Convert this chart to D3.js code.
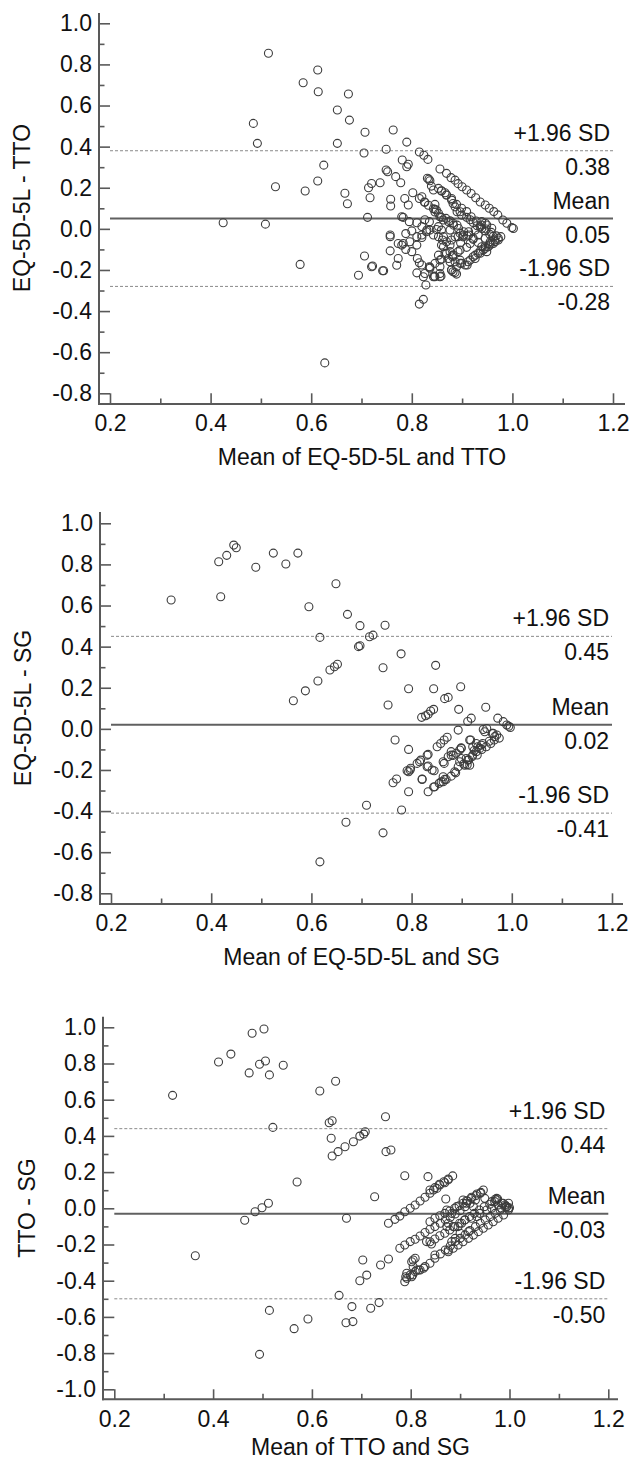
<!DOCTYPE html>
<html>
<head>
<meta charset="utf-8">
<title>Bland-Altman plots</title>
<script src="https://cdn.jsdelivr.net/npm/d3@7"></script>
<style>
  body { margin: 0; background: #fff; }
  text { font-family: "Liberation Sans", Arial, sans-serif; fill: #111; }
</style>
</head>
<body>
<script>
// ---- data ----
const yTitles = ["EQ-5D-5L - TTO", "EQ-5D-5L - SG", "TTO - SG"];
const xTitles = ["Mean of EQ-5D-5L and TTO", "Mean of EQ-5D-5L and SG", "Mean of TTO and SG"];
const meanDiff = [0.05, 0.02, -0.03];
const upperLoA = [0.38, 0.45, 0.44];
const lowerLoA = [-0.28, -0.41, -0.50];

const xTicks = [0.2, 0.4, 0.6, 0.8, 1.0, 1.2];
const xMinor = [0.3, 0.5, 0.7, 0.9, 1.1];
const yTicksA = [-0.8, -0.6, -0.4, -0.2, 0.0, 0.2, 0.4, 0.6, 0.8, 1.0];
const yMinorA = [-0.7, -0.5, -0.3, -0.1, 0.1, 0.3, 0.5, 0.7, 0.9];
const yTicksB = [-1.0, -0.8, -0.6, -0.4, -0.2, 0.0, 0.2, 0.4, 0.6, 0.8, 1.0];
const yMinorB = [-0.9, -0.7, -0.5, -0.3, -0.1, 0.1, 0.3, 0.5, 0.7, 0.9];

// [mean, difference]
const pts1 = [
[0.515,0.854],[0.584,0.711],[0.613,0.773],[0.614,0.667],[0.485,0.513],[0.493,0.416],[0.529,0.205],[0.588,0.184],[0.613,0.233],[0.425,0.030],[0.509,0.023],[0.578,-0.173],
[0.674,0.656],[0.652,0.578],[0.676,0.529],[0.707,0.470],[0.763,0.481],[0.652,0.416],[0.705,0.369],[0.749,0.387],[0.790,0.422],[0.815,0.374],[0.824,0.358],[0.832,0.338],[0.625,0.310],
[0.781,0.335],[0.790,0.302],[0.793,0.314],[0.749,0.286],[0.752,0.278],[0.768,0.254],[0.778,0.224],[0.737,0.224],[0.720,0.221],[0.714,0.200],[0.717,0.151],[0.667,0.173],[0.672,0.122],[0.712,0.056],[0.758,0.144],[0.758,0.111],[0.802,0.176],[0.786,0.148],[0.793,0.116],[0.780,0.059],[0.815,0.148],[0.826,0.129],[0.846,0.119],[0.849,0.092],
[0.831,0.246],[0.836,0.234],[0.839,0.208],[0.843,0.189],[0.853,0.197],[0.859,0.185],[0.866,0.176],[0.869,0.165],[0.879,0.140],[0.882,0.123],[0.886,0.107],[0.896,0.083],
[0.856,0.291],[0.869,0.270],[0.878,0.249],[0.886,0.237],[0.892,0.220],[0.900,0.205],[0.909,0.189],[0.918,0.172],[0.927,0.151],[0.936,0.131],[0.946,0.116],[0.954,0.100],[0.963,0.084],[0.971,0.068],[0.981,0.043],[0.989,0.027],[0.999,0.006],[1.002,0.002],
[0.834,0.242],[0.859,0.184],[0.869,0.165],[0.879,0.148],[0.889,0.119],[0.899,0.100],[0.909,0.084],[0.918,0.059],[0.928,0.038],[0.938,0.019],[0.948,-0.001],[0.958,-0.017],[0.968,-0.034],[0.977,-0.038],
[0.820,0.156],[0.825,0.131],[0.833,0.115],[0.843,0.098],[0.846,0.082],[0.856,0.059],[0.863,0.043],[0.873,0.034],[0.883,0.018],[0.893,0.002],[0.903,-0.014],[0.913,-0.030],[0.922,-0.046],[0.932,-0.066],[0.939,-0.087],[0.949,-0.111],
[0.906,-0.176],[0.916,-0.152],[0.926,-0.128],[0.936,-0.108],[0.946,-0.087],[0.955,-0.071],[0.965,-0.054],[0.972,-0.046],
[0.810,-0.038],[0.820,-0.030],[0.829,-0.014],[0.836,-0.006],
[0.826,-0.217],[0.836,-0.192],[0.846,-0.168],[0.856,-0.152],[0.853,-0.128],
[0.843,-0.233],[0.856,-0.217],[0.879,-0.200],[0.889,-0.184],[0.899,-0.168],[0.912,-0.160],[0.922,-0.136],[0.932,-0.119],[0.942,-0.103],[0.952,-0.087],[0.962,-0.071],
[0.859,-0.079],[0.869,-0.063],[0.879,-0.054],[0.892,-0.038],[0.903,-0.030],[0.913,-0.014],[0.926,-0.006],[0.936,0.010],[0.946,0.027],
[0.866,-0.119],[0.876,-0.111],[0.882,-0.128],[0.892,-0.111],[0.873,-0.144],[0.886,-0.160],[0.896,-0.152],
[0.783,0.056],[0.795,0.035],[0.810,0.030],[0.820,0.011],[0.826,0.044],[0.835,0.035],[0.846,0.095],[0.853,0.076],[0.859,0.056],[0.868,0.051],[0.876,0.039],[0.882,0.027],
[0.890,0.083],[0.899,0.067],[0.909,0.056],[0.916,0.044],[0.922,0.031],[0.930,0.015],[0.939,0.002],[0.946,-0.010],[0.955,-0.026],[0.962,-0.037],[0.972,-0.054],
[0.926,-0.144],[0.936,-0.119],[0.946,-0.095],[0.956,-0.078],[0.966,-0.062],
[0.910,-0.176],[0.896,-0.168],[0.882,-0.209],[0.889,-0.220],
[0.856,-0.233],[0.846,-0.233],[0.836,-0.187],[0.828,-0.273],[0.823,-0.233],[0.815,-0.165],[0.810,-0.214],[0.820,-0.176],
[0.815,-0.366],[0.823,-0.343],
[0.879,-0.200],[0.856,-0.184],[0.859,-0.148],[0.876,-0.160],
[0.882,-0.128],[0.896,-0.103],[0.909,-0.090],[0.916,-0.071],
[0.863,-0.087],[0.861,-0.054],[0.876,-0.079],[0.886,-0.039],[0.897,-0.068],[0.902,-0.039],[0.910,-0.035],[0.922,-0.051],[0.932,-0.030],
[0.783,-0.071],[0.796,-0.063],[0.810,-0.079],[0.788,-0.023],[0.800,-0.010],[0.820,-0.042],[0.830,-0.006],[0.843,-0.030],[0.849,-0.003],
[0.757,-0.030],[0.757,-0.038],[0.773,-0.071],[0.780,-0.079],[0.788,-0.100],[0.800,-0.111],[0.757,-0.107],[0.773,-0.144],[0.770,-0.177],[0.744,-0.204],[0.722,-0.181],
[0.890,0.018],[0.896,-0.022],[0.853,0.011],[0.859,-0.006],[0.863,-0.038],[0.853,-0.038],[0.876,-0.006],
[0.939,0.035],[0.949,0.019],[0.959,0.003],[0.946,-0.046],[0.956,-0.062],
[0.869,-0.119],[0.881,-0.136],
[0.706,-0.132],[0.720,-0.184],[0.742,-0.204],[0.694,-0.226],[0.627,-0.652],
[0.811,-0.144],[0.835,-0.184],[0.845,-0.230],[0.858,-0.230],[0.886,-0.212]
];

const pts2 = [
[0.320,0.627],[0.415,0.813],[0.431,0.844],[0.445,0.894],[0.450,0.881],[0.419,0.643],[0.489,0.786],[0.524,0.855],[0.549,0.802],[0.573,0.855],[0.595,0.594],[0.564,0.137],[0.588,0.185],[0.613,0.233],[0.617,0.445],[0.617,-0.647],
[0.649,0.706],[0.672,0.557],[0.697,0.502],[0.747,0.504],[0.716,0.448],[0.723,0.456],[0.694,0.400],[0.697,0.404],[0.779,0.365],[0.637,0.286],[0.646,0.302],[0.652,0.314],[0.743,0.297],[0.848,0.309],[0.794,0.195],[0.844,0.195],[0.898,0.205],[0.753,0.116],[0.866,0.147],[0.873,0.153],[0.820,0.056],[0.828,0.064],[0.844,0.095],[0.838,0.087],[0.894,0.095],[0.948,0.105],[0.912,0.036],[0.919,0.052],[0.972,0.052],[0.983,0.035],[0.990,0.019],[0.997,0.007],[0.994,0.013],
[0.767,-0.054],[0.794,-0.100],[0.893,-0.006],[0.943,-0.003],[0.950,0.002],[0.918,-0.054],[0.966,-0.038],[0.961,-0.022],
[0.851,-0.087],[0.858,-0.071],[0.865,-0.054],[0.871,-0.041],
[0.899,-0.092],[0.922,-0.087],[0.936,-0.095],[0.942,-0.071],[0.949,-0.087],[0.958,-0.071],[0.965,-0.054],
[0.816,-0.160],[0.811,-0.168],[0.833,-0.124],[0.833,-0.181],[0.845,-0.204],[0.797,-0.200],[0.794,-0.209],[0.865,-0.168],[0.883,-0.129],[0.889,-0.119],[0.904,-0.171],[0.914,-0.151],[0.911,-0.175],[0.921,-0.135],[0.931,-0.127],
[0.763,-0.262],[0.770,-0.244],[0.821,-0.244],
[0.833,-0.306],[0.844,-0.283],[0.855,-0.265],[0.863,-0.257],[0.869,-0.246],[0.879,-0.230],[0.888,-0.214],
[0.794,-0.306],[0.710,-0.372],[0.780,-0.395],[0.669,-0.454],[0.743,-0.506],
[0.833,0.071],[0.946,-0.014],[0.963,-0.022],
[0.916,-0.054],[0.929,-0.071],[0.939,-0.079],
[0.899,-0.095],[0.879,-0.128],[0.863,-0.160],[0.899,-0.144],[0.896,-0.160],[0.906,-0.177],[0.912,-0.152],[0.916,-0.177],
[0.831,-0.128],[0.818,-0.152],[0.798,-0.192],[0.791,-0.204],[0.831,-0.184],[0.841,-0.200],[0.821,-0.246],
[0.866,-0.246],[0.859,-0.257],[0.863,-0.233],[0.886,-0.209],[0.893,-0.184],[0.846,-0.282],
[0.873,-0.136],[0.879,-0.111],[0.896,-0.103],[0.909,-0.144],[0.922,-0.128],[0.929,-0.111],[0.932,-0.087],
[0.955,-0.060],[0.970,-0.030],[0.975,-0.045],[0.940,-0.100],[0.925,-0.105]
];

const pts3 = [
[0.318,0.624],[0.411,0.808],[0.436,0.852],[0.479,0.967],[0.503,0.991],[0.494,0.796],[0.506,0.814],[0.473,0.748],[0.514,0.737],[0.542,0.790],[0.521,0.447],[0.570,0.145],[0.512,0.028],[0.499,0.003],[0.485,-0.019],[0.464,-0.066],[0.364,-0.262],[0.514,-0.564],[0.564,-0.665],[0.592,-0.612],[0.494,-0.807],[0.616,0.648],
[0.648,0.702],[0.635,0.473],[0.641,0.484],[0.749,0.506],[0.639,0.387],
[0.641,0.289],[0.653,0.313],[0.667,0.340],[0.684,0.368],[0.697,0.399],[0.705,0.410],[0.708,0.423],
[0.750,0.313],[0.760,0.322],[0.788,0.180],[0.835,0.175],[0.727,0.064],[0.670,-0.055],[0.871,0.051],
[0.755,-0.083],[0.768,-0.061],[0.778,-0.043],[0.788,-0.019],[0.799,0.000],[0.809,0.018],[0.819,0.040],[0.829,0.061],[0.839,0.083],[0.846,0.101],[0.853,0.110],[0.859,0.129],[0.869,0.141],[0.876,0.157],[0.885,0.179],
[0.778,-0.221],[0.788,-0.203],[0.799,-0.184],[0.809,-0.171],[0.819,-0.153],[0.829,-0.134],[0.839,-0.116],[0.849,-0.101],[0.860,-0.083],[0.870,-0.064],[0.880,-0.050],[0.890,-0.031],[0.900,-0.013],[0.910,0.009],[0.920,0.028],[0.931,0.046],[0.941,0.083],[0.947,0.101],
[0.788,-0.406],[0.799,-0.368],[0.809,-0.350],[0.819,-0.341],[0.829,-0.322],[0.839,-0.304],[0.849,-0.276],[0.860,-0.252],[0.870,-0.230],[0.880,-0.208],[0.890,-0.184],[0.900,-0.166],[0.910,-0.147],[0.920,-0.123],[0.931,-0.101],[0.941,-0.083],[0.951,-0.064],[0.961,-0.046],[0.971,-0.028],[0.981,-0.009],[0.991,0.009],[0.998,0.028],
[0.792,-0.359],[0.809,-0.276],[0.802,-0.295],[0.812,-0.341],[0.832,-0.184],[0.842,-0.197],[0.849,-0.258],[0.876,-0.230],[0.883,-0.184],[0.890,-0.166],[0.900,-0.138],[0.917,-0.129],[0.876,-0.083],[0.886,-0.101],[0.896,-0.101],[0.903,-0.083],[0.910,-0.064],[0.923,-0.055],[0.934,-0.046],[0.940,-0.028],[0.954,-0.009],[0.964,0.000],[0.977,0.018],[0.984,0.000],[0.987,0.028],[0.994,0.009],[0.927,0.009],[0.913,0.028],[0.950,0.055],[0.964,0.037],[0.974,0.046],[0.906,0.046],[0.893,0.009],[0.883,-0.028],[0.873,-0.009],[0.873,-0.101],
[0.934,0.079],[0.923,0.061],[0.913,0.042],[0.971,0.050],[0.998,0.000],
[0.839,0.101],[0.849,0.114],[0.858,0.133],[0.867,0.147],[0.876,0.162],
[0.839,-0.074],[0.849,-0.055],[0.859,-0.041],[0.869,-0.028],[0.879,-0.015],[0.889,0.000],[0.898,0.014],[0.906,0.028],[0.915,0.040],[0.923,0.055],[0.932,0.070],[0.942,0.088],
[0.839,-0.185],[0.849,-0.170],[0.859,-0.152],[0.869,-0.138],[0.879,-0.120],[0.889,-0.102],[0.899,-0.083],[0.909,-0.065],[0.919,-0.046],[0.929,-0.028],[0.939,-0.009],[0.949,0.009],[0.960,0.022],[0.970,0.037],[0.976,0.051],
[0.876,-0.240],[0.886,-0.221],[0.896,-0.203],[0.906,-0.185],[0.917,-0.166],[0.927,-0.148],[0.937,-0.129],[0.947,-0.110],[0.957,-0.092],[0.967,-0.074],[0.977,-0.055],[0.988,-0.037],[0.998,-0.009],[0.994,0.009],
[0.974,0.055],[0.984,0.028],[0.991,0.018],[1.000,0.003],
[0.703,-0.286],[0.711,-0.369],[0.697,-0.400],[0.739,-0.313],[0.755,-0.280],[0.655,-0.481],[0.681,-0.543],[0.719,-0.552],[0.736,-0.521],[0.669,-0.632],[0.683,-0.626],
[0.790,-0.378],[0.804,-0.368],[0.792,-0.387],[0.802,-0.378],[0.805,-0.323],[0.805,-0.286],[0.826,-0.331],[0.816,-0.341]
];

// ---- layout (pixels) ----
const panels = [
  { pts: pts1, yt: yTicksA, ym: yMinorA, ax: 99,  ay: 404,    top: 13,     right: 625, xr: [110, 613],   yr: [393.3, 23.3],   ty: 208,  tx: 22,  xb: 465 },
  { pts: pts2, yt: yTicksA, ym: yMinorA, ax: 100, ay: 904,    top: 512,    right: 623, xr: [111, 612],   yr: [893.3, 523.3],  ty: 708,  tx: 23,  xb: 965 },
  { pts: pts3, yt: yTicksB, ym: yMinorB, ax: 103, ay: 1399.3, top: 1016.7, right: 618, xr: [114.3, 608.3], yr: [1389.3, 1027.3], ty: 1208, tx: 27, xb: 1455 }
];

const fmt1 = d => d.toFixed(1);
const fmt2 = d => d.toFixed(2);
const axisCol = "#595959";
const fs = 23;

const svg = d3.select("body").append("svg").attr("width", 630).attr("height", 1461);

panels.forEach((p, i) => {
  const x = d3.scaleLinear().domain([0.2, 1.2]).range(p.xr);
  const y = d3.scaleLinear().domain([p.yt[0], p.yt[p.yt.length - 1]]).range(p.yr);
  const g = svg.append("g");

  // y axis
  const yTick = p.xr[0] - p.ax;
  g.append("g").attr("transform", `translate(${p.ax},0)`)
    .call(d3.axisLeft(y).tickValues(p.yt).tickFormat(fmt1).tickSizeInner(-yTick).tickSizeOuter(0).tickPadding(7));
  g.append("g").attr("transform", `translate(${p.ax},0)`)
    .call(d3.axisLeft(y).tickValues(p.ym).tickFormat("").tickSizeInner(-5.5).tickSizeOuter(0));

  // x axis
  const xTick = p.ay - p.yr[0];
  g.append("g").attr("transform", `translate(0,${p.ay})`)
    .call(d3.axisBottom(x).tickValues(xTicks).tickFormat(fmt1).tickSizeInner(-xTick).tickSizeOuter(0).tickPadding(11));
  g.append("g").attr("transform", `translate(0,${p.ay})`)
    .call(d3.axisBottom(x).tickValues(xMinor).tickFormat("").tickSizeInner(-5.5).tickSizeOuter(0));

  g.selectAll(".domain").remove();
  g.selectAll(".tick line").attr("stroke", axisCol).attr("stroke-width", 1.6);
  g.selectAll(".tick text").attr("font-size", fs).attr("fill", "#111");

  g.append("line").attr("x1", p.ax).attr("x2", p.ax).attr("y1", p.top).attr("y2", p.ay + 1)
    .attr("stroke", axisCol).attr("stroke-width", 2);
  g.append("line").attr("x1", p.ax - 1).attr("x2", p.right).attr("y1", p.ay).attr("y2", p.ay)
    .attr("stroke", axisCol).attr("stroke-width", 2);

  // reference lines
  const refs = [
    { v: upperLoA[i], lab: "+1.96 SD", dash: true },
    { v: meanDiff[i], lab: "Mean", dash: false },
    { v: lowerLoA[i], lab: "-1.96 SD", dash: true }
  ];
  refs.forEach(r => {
    g.append("line").attr("x1", x(0.2)).attr("x2", x(1.2)).attr("y1", y(r.v)).attr("y2", y(r.v))
      .attr("stroke", r.dash ? "#8a8a8a" : "#606060")
      .attr("stroke-width", r.dash ? 1 : 2)
      .attr("stroke-dasharray", r.dash ? "3,2" : null);
    g.append("text").attr("x", x(1.2) - 3).attr("y", y(r.v) - 10)
      .attr("text-anchor", "end").attr("font-size", fs).text(r.lab);
    g.append("text").attr("x", x(1.2) - 3).attr("y", y(r.v) + 24)
      .attr("text-anchor", "end").attr("font-size", fs).text(fmt2(r.v));
  });

  // points
  g.append("g").selectAll("circle").data(p.pts).enter().append("circle")
    .attr("cx", d => x(d[0])).attr("cy", d => y(d[1])).attr("r", 4)
    .attr("fill", "none").attr("stroke", "#3c3c3c").attr("stroke-width", 1.1);

  // titles
  g.append("text").attr("transform", `translate(${p.tx},${p.ty}) rotate(-90)`)
    .attr("text-anchor", "middle").attr("dy", "0.35em").attr("font-size", fs).text(yTitles[i]);
  g.append("text").attr("x", (p.ax + p.right) / 2).attr("y", p.xb)
    .attr("text-anchor", "middle").attr("font-size", fs).text(xTitles[i]);
});
</script>
</body>
</html>
